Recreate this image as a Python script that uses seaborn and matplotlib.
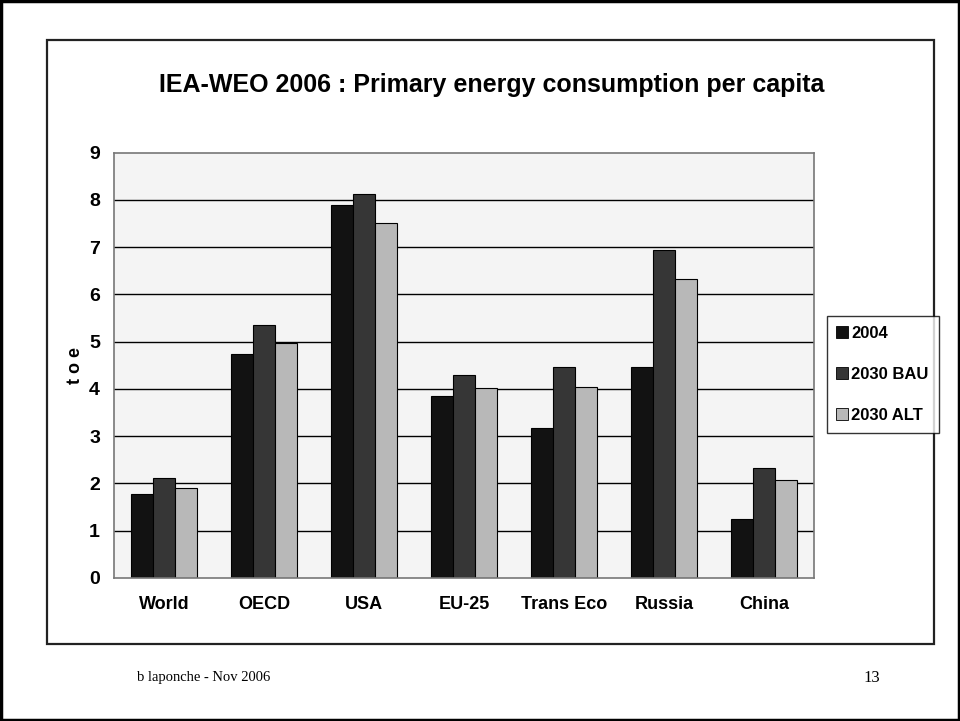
import numpy as np
import pandas as pd
import matplotlib
matplotlib.use("Agg")
import matplotlib.pyplot as plt
from matplotlib.patches import Rectangle
from matplotlib.lines import Line2D
import seaborn as sns

regions = ["World", "OECD", "USA", "EU-25", "Trans Eco", "Russia", "China"]
series = ["2004", "2030 BAU", "2030 ALT"]
v2004 = [1.78, 4.74, 7.89, 3.85, 3.18, 4.47, 1.25]
v2030_bau = [2.11, 5.36, 8.13, 4.29, 4.47, 6.93, 2.33]
v2030_alt = [1.90, 4.98, 7.51, 4.01, 4.04, 6.33, 2.07]
yticks = list(range(0, 10))

colors = ["#121212", "#363636", "#b8b8b8"]

df = pd.DataFrame({
    "region": regions * 3,
    "series": [series[0]] * 7 + [series[1]] * 7 + [series[2]] * 7,
    "toe": v2004 + v2030_bau + v2030_alt,
})

sns.set_style("white")
plt.rcParams["font.family"] = ["Liberation Sans", "DejaVu Sans"]
plt.rcParams["text.color"] = "black"
plt.rcParams["axes.labelcolor"] = "black"
plt.rcParams["xtick.labelcolor"] = "black"
plt.rcParams["ytick.labelcolor"] = "black"

fig = plt.figure(figsize=(9.6, 7.21), dpi=100)

# outer slide border and chart frame
fig.patches.append(Rectangle((0.001, 0.001), 0.998, 0.998, transform=fig.transFigure,
                             fill=False, edgecolor="black", linewidth=2.5))
fig.patches.append(Rectangle((47 / 960, 1 - 644 / 721), 887 / 960, 604 / 721,
                             transform=fig.transFigure, fill=False,
                             edgecolor="#222222", linewidth=1.6))

ax = fig.add_axes([114 / 960, 1 - 578 / 721, 700 / 960, 425.5 / 721])
ax.set_facecolor("#f4f4f4")

sns.barplot(data=df, x="region", y="toe", hue="series", palette=colors,
            width=0.667, gap=0, edgecolor="black", linewidth=0.8,
            saturation=1, ax=ax, legend=False)

ax.set_ylim(0, 9)
ax.set_xlim(-0.5, 6.5)
ax.set_yticks(yticks)
ax.set_yticklabels([str(t) for t in yticks], fontsize=14, fontweight="bold")
ax.set_xticks(range(len(regions)))
ax.set_xticklabels(regions, fontsize=13, fontweight="bold")
ax.set_xticks(np.arange(-0.5, 7, 1), minor=True)
ax.tick_params(axis="x", which="major", length=0, pad=13)
ax.tick_params(axis="x", which="minor", length=6, width=1, color="#666666", direction="out")
ax.tick_params(axis="y", length=6, width=1, color="#444444", direction="out", pad=4)

ax.grid(False)
for y in yticks[1:-1]:
    ax.axhline(y, color="black", linewidth=1, zorder=0.5)
for side in ["left", "bottom", "top", "right"]:
    ax.spines[side].set_visible(True)
    ax.spines[side].set_color("#777777")
    ax.spines[side].set_linewidth(1.2)

ax.set_xlabel("")
ax.set_ylabel("t o e", fontsize=13, fontweight="bold", labelpad=4)

fig.text(492 / 960, 1 - 85 / 721, "IEA-WEO 2006 : Primary energy consumption per capita",
         ha="center", va="center", fontsize=18, fontweight="bold")

handles = [Line2D([0], [0], marker="s", linestyle="", markersize=8,
                  markerfacecolor=c, markeredgecolor="black", markeredgewidth=0.6)
           for c in colors]
leg = fig.legend(handles, series, loc="upper left",
                 bbox_to_anchor=(827 / 960, 1 - 316 / 721), borderaxespad=0,
                 prop={"size": 12, "weight": "bold"}, frameon=True,
                 fancybox=False, handlelength=0.6, handletextpad=0.25,
                 labelspacing=1.55, borderpad=0.6)
leg.get_frame().set_edgecolor("black")
leg.get_frame().set_linewidth(1)

fig.text(137 / 960, 1 - 678 / 721, "b laponche - Nov 2006", ha="left", va="center",
         fontsize=10.5, family=["Liberation Serif", "DejaVu Serif"])
fig.text(872 / 960, 1 - 678 / 721, "13", ha="center", va="center",
         fontsize=12, family=["Liberation Serif", "DejaVu Serif"])

fig.savefig("out.png", dpi=100)
